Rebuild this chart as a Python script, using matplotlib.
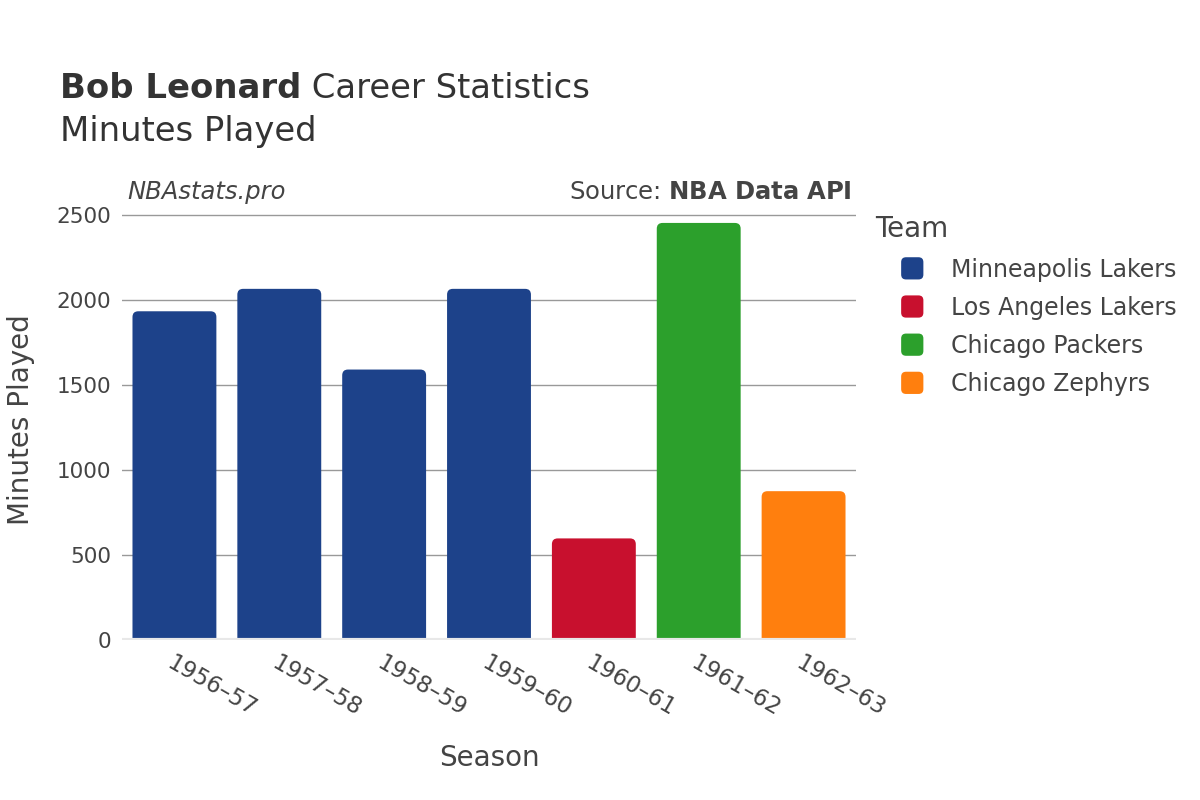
import matplotlib
matplotlib.use('Agg')
import matplotlib.pyplot as plt
from matplotlib.patches import FancyBboxPatch, Patch
from matplotlib.legend_handler import HandlerPatch

plt.rcParams['font.family'] = ['DejaVu Sans']

# Data
seasons = ['1956–57', '1957–58', '1958–59', '1959–60', '1960–61', '1961–62', '1962–63']
minutes = [1935, 2067, 1592, 2067, 598, 2455, 876]
teams = ['Minneapolis Lakers', 'Minneapolis Lakers', 'Minneapolis Lakers', 'Minneapolis Lakers',
         'Los Angeles Lakers', 'Chicago Packers', 'Chicago Zephyrs']
team_order = ['Minneapolis Lakers', 'Los Angeles Lakers', 'Chicago Packers', 'Chicago Zephyrs']
team_colors = {
    'Minneapolis Lakers': '#1d428a',
    'Los Angeles Lakers': '#c8102e',
    'Chicago Packers': '#2ca02c',
    'Chicago Zephyrs': '#ff7f0e',
}

txt = '#444444'

fig = plt.figure(figsize=(12, 8), dpi=100)
ax = fig.add_axes([122 / 1200, 160 / 800, 734 / 1200, 440 / 800])

ymax = 2590
ax.set_xlim(-0.5, len(seasons) - 0.5)
ax.set_ylim(0, ymax)

# draw bars, then swap them for rounded-top versions
bars = ax.bar(range(len(seasons)), minutes, width=0.8,
              color=[team_colors[t] for t in teams], zorder=3)
px_x = 734 / len(seasons)          # pixels per x unit
px_y = 440 / ymax                  # pixels per y unit
aspect = px_x / px_y
for b in bars:
    x0, w, h = b.get_x(), b.get_width(), b.get_height()
    fb = FancyBboxPatch((x0, -60), w, h + 60,
                        boxstyle='round,pad=0,rounding_size=0.055',
                        mutation_aspect=aspect,
                        facecolor=b.get_facecolor(), edgecolor='none', zorder=3)
    ax.add_patch(fb)
    b.remove()

ax.set_yticks([0, 500, 1000, 1500, 2000, 2500])
ax.yaxis.grid(True, color='#999999', linewidth=1, zorder=0)
ax.axhline(0, color='#e8e8e8', linewidth=3, zorder=4)
for s in ax.spines.values():
    s.set_visible(False)
ax.tick_params(axis='both', length=0, labelsize=15.5, colors=txt)
ax.tick_params(axis='y', pad=8)
ax.set_xticks(range(len(seasons)))
ax.set_xticklabels(seasons, rotation=-30, ha='left', rotation_mode='anchor', fontsize=16.5)
ax.tick_params(axis='x', pad=8)

ax.set_xlabel('Season', fontsize=20, color=txt, labelpad=17)
ax.set_ylabel('Minutes Played', fontsize=20, color=txt, labelpad=15)

# titles and annotations
t1 = fig.text(60 / 1200, 1 - 88 / 800, 'Bob Leonard', fontsize=24.4, fontweight='bold',
              color='#333333', va='center')
fig.canvas.draw()
bb = t1.get_window_extent()
fig.text(bb.x1 / 1200, 1 - 88 / 800, ' Career Statistics', fontsize=24.4,
         color='#333333', va='center')
fig.text(60 / 1200, 1 - 132 / 800, 'Minutes Played', fontsize=24.4, color='#333333', va='center')
fig.text(127 / 1200, 1 - 192 / 800, 'NBAstats.pro', fontsize=17.5, style='italic',
         color=txt, va='center')
fig.text(852 / 1200, 1 - 192 / 800, 'Source: $\\bf{NBA\\ Data\\ API}$', fontsize=17.5,
         color=txt, va='center', ha='right')


def rounded_square(legend, orig_handle, xdescent, ydescent, width, height, fontsize):
    size = 16  # points (about 22 px)
    return FancyBboxPatch((-xdescent + width - size, -ydescent + height / 2 - size / 2),
                          size, size, boxstyle='round,pad=0,rounding_size=3.5')


handles = [Patch(facecolor=team_colors[t], edgecolor='none') for t in team_order]
leg = fig.legend(handles, team_order, loc='upper left',
                 bbox_to_anchor=(866 / 1200, 1 - 206 / 800),
                 frameon=False, title='Team', fontsize=17, title_fontsize=20,
                 alignment='left', labelspacing=0.6, handlelength=2.03,
                 handletextpad=1.15, borderaxespad=0,
                 handler_map={Patch: HandlerPatch(patch_func=rounded_square)})
for t in leg.get_texts():
    t.set_color(txt)
leg.get_title().set_color(txt)

fig.savefig('out.png', dpi=100)
